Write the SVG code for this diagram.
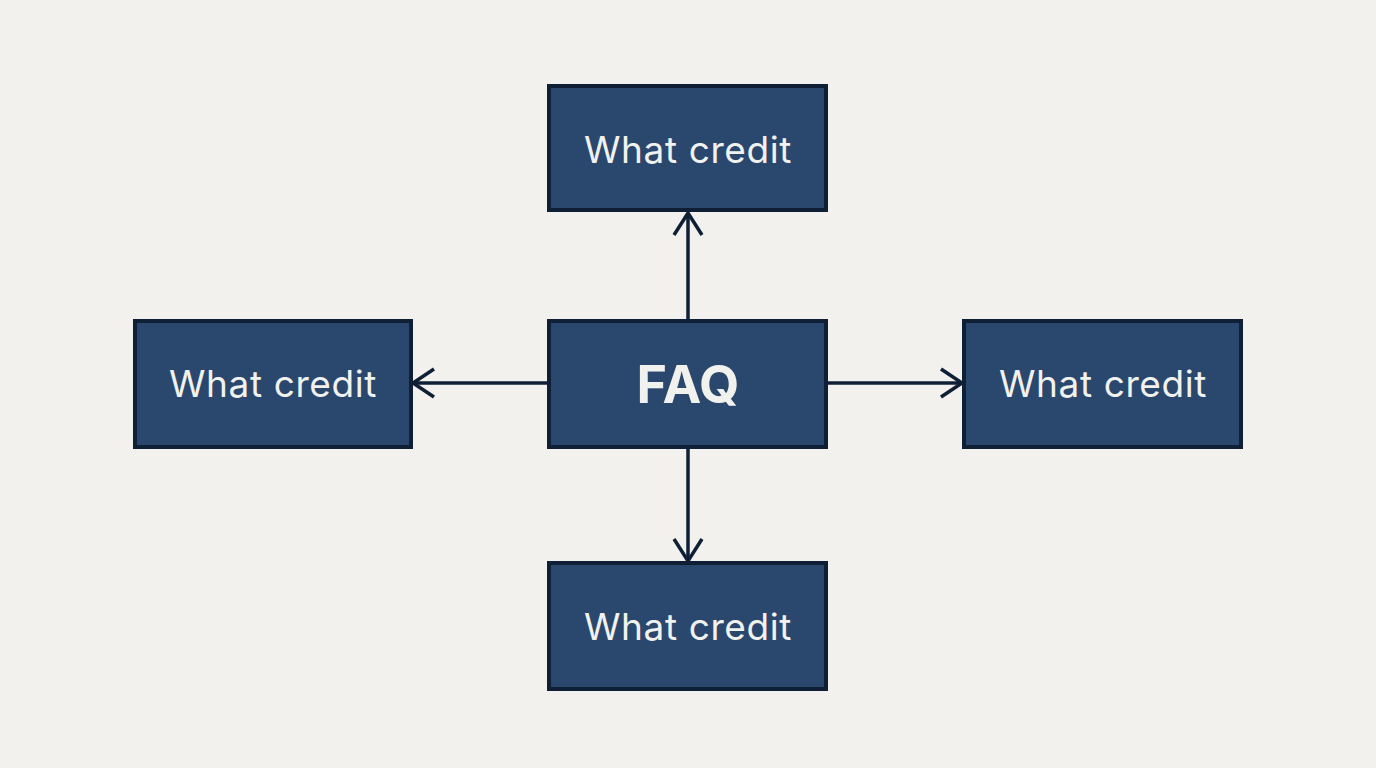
<svg xmlns="http://www.w3.org/2000/svg" width="1376" height="768" viewBox="0 0 1376 768">
<style>
.box{fill:#2a476d;stroke:#0f2036;stroke-width:4}
.lbl{font-family:Inter,"Open Sans","Liberation Sans",sans-serif;font-size:37px;letter-spacing:0.6px;fill:#f1f1ee;text-anchor:middle;dominant-baseline:central}
.title{font-family:Inter,"Open Sans","Liberation Sans",sans-serif;font-size:52px;font-weight:700;fill:#f1f1ee;text-anchor:middle;dominant-baseline:central}
.conn{stroke:#0f2036;stroke-width:3.5;fill:none}
.head{stroke:#0f2036;stroke-width:3.5;fill:none;stroke-linecap:butt;stroke-linejoin:miter}
</style>
<rect width="1376" height="768" fill="#f2f1ed"/>
<g id="connectors">
<line class="conn" x1="688" y1="320" x2="688" y2="213"/>
<polyline class="head" points="674,235 688,213 702,235"/>
<line class="conn" x1="688" y1="447" x2="688" y2="561"/>
<polyline class="head" points="674,539 688,561 702,539"/>
<line class="conn" x1="549" y1="383" x2="413" y2="383"/>
<polyline class="head" points="434,369 413,383 434,397"/>
<line class="conn" x1="826" y1="383" x2="962" y2="383"/>
<polyline class="head" points="941,369 962,383 941,397"/>
</g>
<g id="node-faq">
<rect class="box" x="549" y="321" width="277" height="126"/>
<text class="title" x="688" y="384">FAQ</text>
</g>
<g id="node-top">
<rect class="box" x="549" y="86" width="277" height="124"/>
<text class="lbl" x="688" y="149">What credit</text>
</g>
<g id="node-left">
<rect class="box" x="135" y="321" width="276" height="126"/>
<text class="lbl" x="273" y="383">What credit</text>
</g>
<g id="node-right">
<rect class="box" x="964" y="321" width="277" height="126"/>
<text class="lbl" x="1103" y="383">What credit</text>
</g>
<g id="node-bottom">
<rect class="box" x="549" y="563" width="277" height="126"/>
<text class="lbl" x="688" y="626">What credit</text>
</g>
</svg>
